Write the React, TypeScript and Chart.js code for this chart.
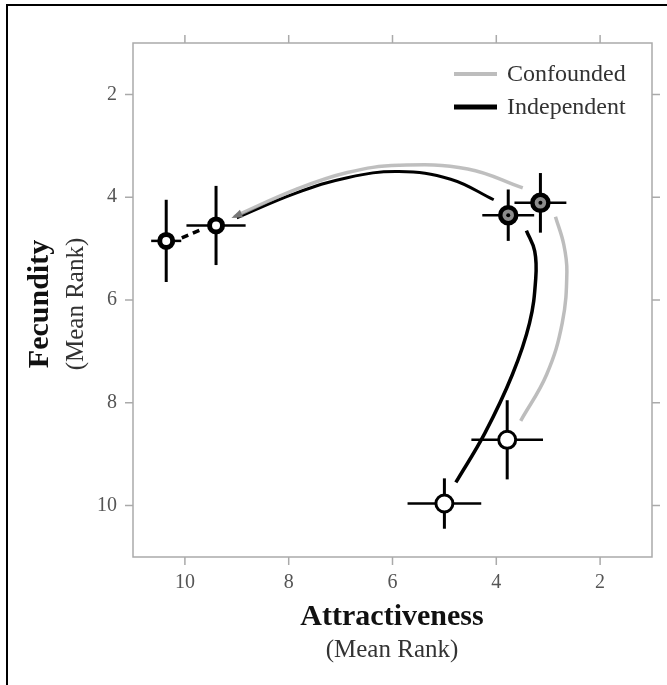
import React, { useEffect, useRef } from "react";
import { Chart, registerables } from "chart.js";

Chart.register(...registerables);

const SERIF = '"Liberation Serif", "Times New Roman", "DejaVu Serif", serif';

// Axis ticks
const X_TICKS = [10, 8, 6, 4, 2];
const Y_TICKS = [2, 4, 6, 8, 10];

// Group means (Attractiveness rank, Fecundity rank) with error bars
const POINT_X = [10.36, 9.4, 3.77, 3.15, 3.79, 5.0];
const POINT_Y = [4.85, 4.55, 4.35, 4.11, 8.72, 9.96];
const X_ERR = [0.29, 0.57, 0.5, 0.5, 0.69, 0.71];
const Y_ERR = [0.8, 0.77, 0.5, 0.58, 0.77, 0.49];

// Marker groups (indices into POINT_X / POINT_Y)
const RING_IDX = [0, 1];
const GRAY_IDX = [2, 3];
const OPEN_IDX = [4, 5];

// Confounded trajectory (grey)
const CONF_TOP_X = [3.49, 4.55, 5.88, 6.87, 7.86, 9.05];
const CONF_TOP_Y = [3.82, 3.45, 3.38, 3.52, 3.85, 4.38];
const CONF_RIGHT_X = [3.53, 3.03, 2.73, 2.64, 2.7, 2.86];
const CONF_RIGHT_Y = [8.35, 7.45, 6.45, 5.45, 4.92, 4.38];

// Independent trajectory (black)
const IND_TOP_X = [4.05, 4.88, 5.88, 6.87, 7.86, 9.0];
const IND_TOP_Y = [4.05, 3.65, 3.5, 3.62, 3.92, 4.4];
const IND_RIGHT_X = [4.78, 4.22, 3.69, 3.36, 3.24, 3.26, 3.42];
const IND_RIGHT_Y = [9.55, 8.59, 7.45, 6.45, 5.58, 5.05, 4.65];
const IND_DASH_X = [10.06, 9.66];
const IND_DASH_Y = [4.79, 4.62];

const LEGEND_LABELS = ["Confounded", "Independent"];
const LEGEND_COLORS = ["#bdbdbd", "#000000"];

const zip = (xs: number[], ys: number[]) => xs.map((x, i) => ({ x, y: ys[i] }));
const pick = (idx: number[]) => idx.map((i) => ({ x: POINT_X[i], y: POINT_Y[i] }));

const GREY = "#bdbdbd";

const decorPlugin = {
  id: "decor",
  beforeDraw(chart: any) {
    const ctx = chart.ctx;
    const { left, right, top, bottom } = chart.chartArea;
    const xs = chart.scales.x;
    const ys = chart.scales.y;
    ctx.save();
    ctx.fillStyle = "#fff";
    ctx.fillRect(0, 0, chart.width, chart.height);
    // outer frame
    ctx.strokeStyle = "#000";
    ctx.lineWidth = 2;
    ctx.beginPath();
    ctx.moveTo(6, 5);
    ctx.lineTo(chart.width, 5);
    ctx.moveTo(7, 4);
    ctx.lineTo(7, chart.height);
    ctx.stroke();
    // plot box
    ctx.strokeStyle = "#aaaaaa";
    ctx.lineWidth = 1.5;
    ctx.strokeRect(left, top, right - left, bottom - top);
    // tick marks on all sides (outside)
    const tl = 8;
    ctx.beginPath();
    X_TICKS.forEach((v) => {
      const px = xs.getPixelForValue(v);
      ctx.moveTo(px, bottom);
      ctx.lineTo(px, bottom + tl);
      ctx.moveTo(px, top);
      ctx.lineTo(px, top - tl);
    });
    Y_TICKS.forEach((v) => {
      const py = ys.getPixelForValue(v);
      ctx.moveTo(left, py);
      ctx.lineTo(left - tl, py);
      ctx.moveTo(right, py);
      ctx.lineTo(right + tl, py);
    });
    ctx.stroke();
    ctx.restore();
  },
  beforeDatasetsDraw(chart: any) {
    const ctx = chart.ctx;
    const xs = chart.scales.x;
    const ys = chart.scales.y;
    ctx.save();
    ctx.strokeStyle = "#000";
    POINT_X.forEach((x, i) => {
      const y = POINT_Y[i];
      const cx = xs.getPixelForValue(x);
      const cy = ys.getPixelForValue(y);
      ctx.lineWidth = 3;
      ctx.beginPath();
      ctx.moveTo(cx, ys.getPixelForValue(y - Y_ERR[i]));
      ctx.lineTo(cx, ys.getPixelForValue(y + Y_ERR[i]));
      ctx.stroke();
      ctx.lineWidth = 2.5;
      ctx.beginPath();
      ctx.moveTo(xs.getPixelForValue(x - X_ERR[i]), cy);
      ctx.lineTo(xs.getPixelForValue(x + X_ERR[i]), cy);
      ctx.stroke();
    });
    ctx.restore();
  },
  afterDatasetsDraw(chart: any) {
    const ctx = chart.ctx;
    const xs = chart.scales.x;
    const ys = chart.scales.y;
    ctx.save();
    // arrow head at end of confounded top arc
    const n = CONF_TOP_X.length;
    const tx = xs.getPixelForValue(CONF_TOP_X[n - 1]);
    const ty = ys.getPixelForValue(CONF_TOP_Y[n - 1]);
    const bx = xs.getPixelForValue(CONF_TOP_X[n - 2]);
    const by = ys.getPixelForValue(CONF_TOP_Y[n - 2]);
    const ang = Math.atan2(ty - by, tx - bx);
    ctx.translate(tx, ty);
    ctx.rotate(ang);
    ctx.fillStyle = "#777";
    ctx.beginPath();
    ctx.moveTo(3, 0);
    ctx.lineTo(-8, -4);
    ctx.lineTo(-8, 4);
    ctx.closePath();
    ctx.fill();
    ctx.restore();
  },
  afterDraw(chart: any) {
    const ctx = chart.ctx;
    ctx.save();
    // legend
    const ly = [74, 107];
    LEGEND_LABELS.forEach((lab, i) => {
      ctx.strokeStyle = LEGEND_COLORS[i];
      ctx.lineWidth = i === 0 ? 4 : 5;
      ctx.beginPath();
      ctx.moveTo(454, ly[i]);
      ctx.lineTo(497, ly[i]);
      ctx.stroke();
      ctx.fillStyle = "#333";
      ctx.font = `24px ${SERIF}`;
      ctx.textAlign = "left";
      ctx.textBaseline = "middle";
      ctx.fillText(lab, 507, ly[i] + 1);
    });
    // axis titles
    ctx.fillStyle = "#111";
    ctx.textAlign = "center";
    ctx.textBaseline = "middle";
    ctx.font = `bold 30px ${SERIF}`;
    ctx.fillText("Attractiveness", 392, 617);
    ctx.fillStyle = "#333";
    ctx.font = `25px ${SERIF}`;
    ctx.fillText("(Mean Rank)", 392, 650);
    ctx.translate(40, 304);
    ctx.rotate(-Math.PI / 2);
    ctx.fillStyle = "#111";
    ctx.font = `bold 30px ${SERIF}`;
    ctx.fillText("Fecundity", 0, 0);
    ctx.restore();
    ctx.save();
    ctx.translate(76, 304);
    ctx.rotate(-Math.PI / 2);
    ctx.fillStyle = "#333";
    ctx.textAlign = "center";
    ctx.textBaseline = "middle";
    ctx.font = `25px ${SERIF}`;
    ctx.fillText("(Mean Rank)", 0, 0);
    ctx.restore();
  },
};

export default function App() {
  const ref = useRef<HTMLCanvasElement | null>(null);

  useEffect(() => {
    if (!ref.current) return;
    const lineDs = (data: any[], color: string, width: number, extra: any = {}) => ({
      type: "scatter",
      data,
      showLine: true,
      borderColor: color,
      borderWidth: width,
      pointRadius: 0,
      tension: 0.4,
      fill: false,
      ...extra,
    });
    const chart = new Chart(ref.current, {
      type: "scatter",
      data: {
        datasets: [
          {
            data: pick(GRAY_IDX),
            pointRadius: 2,
            backgroundColor: "#000",
            borderWidth: 0,
          },
          {
            data: pick(GRAY_IDX),
            pointRadius: 8,
            borderWidth: 4.5,
            backgroundColor: "#8c8c8c",
            borderColor: "#000",
          },
          {
            data: pick(RING_IDX),
            pointRadius: 6.5,
            borderWidth: 5,
            backgroundColor: "#fff",
            borderColor: "#000",
          },
          {
            data: pick(OPEN_IDX),
            pointRadius: 8.5,
            borderWidth: 3,
            backgroundColor: "#fff",
            borderColor: "#000",
          },
          lineDs(zip(CONF_TOP_X, CONF_TOP_Y), "rgba(175,175,175,0.8)", 3.5),
          lineDs(zip(CONF_RIGHT_X, CONF_RIGHT_Y), GREY, 3.5),
          lineDs(zip(IND_TOP_X, IND_TOP_Y), "#000", 3),
          lineDs(zip(IND_RIGHT_X, IND_RIGHT_Y), "#000", 3.5),
          lineDs(zip(IND_DASH_X, IND_DASH_Y), "#000", 3.5, { borderDash: [7, 5], tension: 0 }),
        ] as any,
      },
      options: {
        responsive: false,
        animation: false,
        events: [],
        layout: { padding: { top: 43, right: 15, left: 0, bottom: 0 } },
        plugins: {
          legend: { display: false },
          tooltip: { enabled: false },
        },
        scales: {
          x: {
            type: "linear",
            reverse: true,
            min: 1,
            max: 11,
            afterBuildTicks: (s: any) => {
              s.ticks = X_TICKS.map((v) => ({ value: v }));
            },
            afterFit: (s: any) => {
              s.height = 128;
            },
            grid: { display: false },
            border: { display: false },
            ticks: {
              font: { family: SERIF, size: 20 },
              color: "#555",
              padding: 6,
              maxRotation: 0,
            },
          },
          y: {
            type: "linear",
            reverse: true,
            min: 1,
            max: 11,
            afterBuildTicks: (s: any) => {
              s.ticks = Y_TICKS.map((v) => ({ value: v }));
            },
            afterFit: (s: any) => {
              s.width = 133;
            },
            grid: { display: false },
            border: { display: false },
            ticks: {
              font: { family: SERIF, size: 20 },
              color: "#555",
              padding: 8,
            },
          },
        },
      } as any,
      plugins: [decorPlugin],
    });
    return () => chart.destroy();
  }, []);

  return (
    <div
      style={{
        position: "fixed",
        left: 0,
        top: 0,
        width: 667,
        height: 685,
        overflow: "hidden",
        background: "#fff",
      }}
    >
      <canvas ref={ref} width={667} height={685} style={{ display: "block", width: 667, height: 685 }} />
    </div>
  );
}
